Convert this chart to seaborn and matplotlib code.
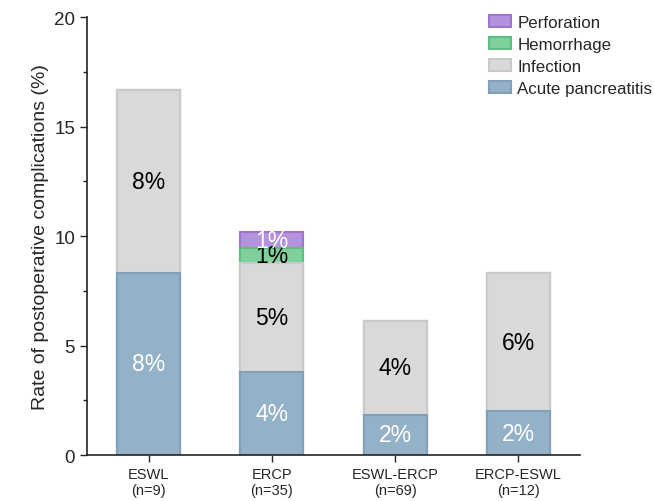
import matplotlib
matplotlib.use("Agg")
import matplotlib.pyplot as plt
import seaborn as sns
import numpy as np
import pandas as pd
from matplotlib.patches import Patch
from matplotlib.ticker import MultipleLocator

groups = ["ESWL\n(n=9)", "ERCP\n(n=35)", "ESWL-ERCP\n(n=69)", "ERCP-ESWL\n(n=12)"]
acute_pancreatitis = [8.33, 3.80, 1.83, 2.00]
infection = [8.33, 4.97, 4.30, 6.30]
hemorrhage = [0.0, 0.67, 0.0, 0.0]
perforation = [0.0, 0.74, 0.0, 0.0]
layer_names = ["Acute pancreatitis", "Infection", "Hemorrhage", "Perforation"]

sns.set_style("ticks")
plt.rcParams['font.family'] = ['Liberation Sans', 'DejaVu Sans']

layers = [acute_pancreatitis, infection, hemorrhage, perforation]
faces = ["#93B1C7", "#D9D9D9", "#80D09E", "#B592DC"]
edges = ["#7FA1BA", "#C9C9C9", "#5DBE81", "#9D74D0"]
txtcol = ["white", "black", "black", "white"]

cum = np.cumsum(np.array(layers), axis=0)

fig = plt.figure(figsize=(6.54, 5.02), dpi=100)
ax = fig.add_axes([0.133, 0.0916, 0.754, 0.8725])

for i in range(len(layers) - 1, -1, -1):
    df = pd.DataFrame({"group": groups, "val": cum[i]})
    sns.barplot(data=df, x="group", y="val", ax=ax, color=faces[i],
                saturation=1, width=0.51, edgecolor=edges[i], linewidth=1.5,
                errorbar=None)

for i, layer in enumerate(layers):
    for j, v in enumerate(layer):
        if v > 0:
            base = cum[i][j] - v
            ax.text(j, base + v / 2, f"{round(v):d}%", ha="center", va="center",
                    fontsize=16.5, color=txtcol[i])

ax.set_xlim(-0.5, 3.5)
ax.set_ylim(0, 20)
ax.yaxis.set_major_locator(MultipleLocator(5))
ax.yaxis.set_minor_locator(MultipleLocator(2.5))
ax.tick_params(axis="y", which="major", length=5, width=1, labelsize=13.5, direction="out")
ax.tick_params(axis="y", which="minor", length=3, width=1, direction="out")
ax.tick_params(axis="x", length=5, width=1, labelsize=10.5, direction="out")
ax.set_xlabel("")
ax.set_ylabel("Rate of postoperative complications (%)", fontsize=14)
sns.despine(ax=ax)
for s in ["left", "bottom"]:
    ax.spines[s].set_linewidth(1.2)
    ax.spines[s].set_color("#222222")

handles = [Patch(facecolor=faces[i], edgecolor=edges[i], linewidth=1.5, label=layer_names[i])
           for i in range(len(layers) - 1, -1, -1)]
fig.legend(handles=handles, loc="upper right", bbox_to_anchor=(1.0, 0.972),
           bbox_transform=fig.transFigure, frameon=False,
           fontsize=12.2, handlelength=1.3, handleheight=0.7, labelspacing=0.42,
           handletextpad=0.4, borderaxespad=0.0, borderpad=0.1)

fig.savefig("out.png", dpi=100)
